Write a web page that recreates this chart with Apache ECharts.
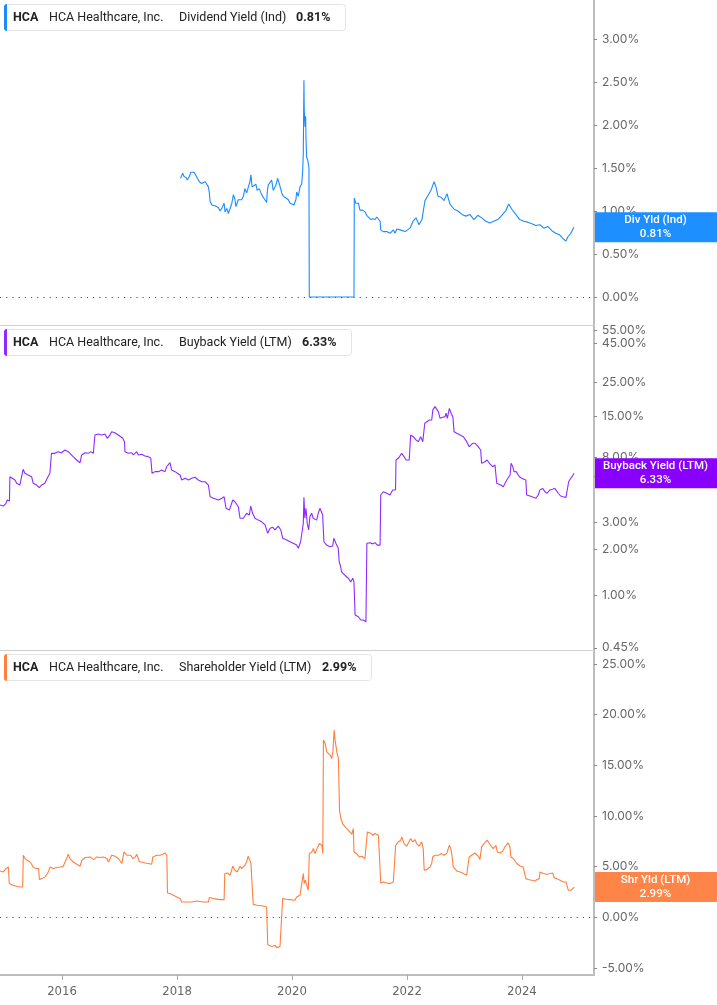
<!DOCTYPE html>
<html><head><meta charset="utf-8">
<script src="https://cdn.jsdelivr.net/npm/echarts@6/dist/echarts.min.js"></script>
<style>html,body{margin:0;padding:0;background:#fff}#c{width:717px;height:1005px}</style>
</head><body><div id="c"></div>
<script>
// ---------- DATA ----------
const divDates = ['2018-01-23','2018-02-06','2018-02-14','2018-02-27','2018-03-07','2018-03-20','2018-03-29','2018-04-10','2018-04-19','2018-05-01','2018-05-10','2018-05-22','2018-06-07','2018-06-17','2018-06-28','2018-07-09','2018-07-19','2018-07-25','2018-07-30','2018-08-10','2018-08-30','2018-09-20','2018-10-01','2018-10-12','2018-10-22','2018-10-27','2018-11-02','2018-11-13','2018-11-23','2018-12-04','2018-12-15','2018-12-25','2019-01-04','2019-01-10','2019-01-18','2019-01-25','2019-02-05','2019-02-15','2019-02-26','2019-03-08','2019-03-19','2019-03-29','2019-04-09','2019-04-15','2019-04-23','2019-05-05','2019-05-17','2019-05-25','2019-06-07','2019-06-18','2019-06-29','2019-07-13','2019-07-24','2019-07-28','2019-08-03','2019-08-14','2019-08-25','2019-09-04','2019-09-09','2019-09-21','2019-10-02','2019-10-12','2019-10-21','2019-10-28','2019-11-07','2019-11-24','2019-12-09','2019-12-20','2019-12-30','2020-01-13','2020-01-26','2020-01-31','2020-02-10','2020-02-21','2020-03-03','2020-03-09','2020-03-13','2020-03-17','2020-03-19','2020-03-24','2020-03-28','2020-03-30','2020-04-03','2020-04-10','2020-04-14','2020-04-18','2020-04-20','2021-01-29','2021-01-31','2021-02-09','2021-02-26','2021-03-08','2021-03-25','2021-04-09','2021-04-20','2021-04-30','2021-05-16','2021-05-29','2021-06-12','2021-06-23','2021-07-03','2021-07-14','2021-07-18','2021-08-03','2021-08-25','2021-09-15','2021-10-06','2021-10-17','2021-10-28','2021-11-18','2021-12-20','2022-01-20','2022-02-08','2022-02-27','2022-03-18','2022-04-06','2022-04-25','2022-05-14','2022-06-02','2022-06-22','2022-07-04','2022-07-17','2022-08-05','2022-08-24','2022-09-12','2022-10-01','2022-10-27','2022-11-21','2022-12-16','2023-01-10','2023-02-04','2023-03-02','2023-03-27','2023-04-21','2023-05-17','2023-06-11','2023-07-06','2023-08-01','2023-08-26','2023-09-20','2023-10-09','2023-10-29','2023-11-23','2023-12-18','2024-01-13','2024-02-07','2024-03-04','2024-03-29','2024-04-24','2024-05-19','2024-06-13','2024-07-09','2024-08-03','2024-08-29','2024-09-17','2024-10-07','2024-10-19','2024-11-07','2024-11-26'];
const divValues = [1.38,1.44,1.40,1.39,1.36,1.40,1.45,1.44,1.45,1.44,1.38,1.34,1.32,1.30,1.34,1.31,1.28,1.21,1.11,1.07,1.06,1.04,1.00,1.03,1.05,1.09,0.99,1.03,0.97,0.95,1.09,1.19,1.13,1.05,1.05,1.13,1.15,1.13,1.17,1.26,1.21,1.22,1.34,1.42,1.28,1.28,1.31,1.24,1.26,1.21,1.17,1.13,1.10,1.22,1.30,1.32,1.36,1.24,1.22,1.30,1.38,1.32,1.26,1.21,1.17,1.15,1.13,1.09,1.07,1.07,1.13,1.22,1.17,1.28,1.32,1.46,1.67,2.52,2.17,1.98,2.10,1.86,1.63,1.59,1.55,1.50,0.00,0.00,1.15,1.09,1.09,1.01,1.01,0.99,0.95,0.93,0.90,0.91,0.90,0.93,0.91,0.88,0.78,0.76,0.76,0.74,0.78,0.74,0.79,0.78,0.76,0.80,0.88,0.92,0.84,0.90,1.12,1.18,1.24,1.34,1.28,1.17,1.16,1.12,1.20,1.08,1.02,1.00,0.96,0.94,0.96,0.90,0.95,0.92,0.88,0.86,0.88,0.90,0.95,1.00,1.08,1.02,0.96,0.90,0.88,0.87,0.85,0.83,0.84,0.80,0.82,0.77,0.74,0.72,0.68,0.65,0.70,0.74,0.81];

const bbDates = ['2014-12-03','2014-12-24','2015-01-10','2015-01-18','2015-01-25','2015-02-01','2015-02-04','2015-02-15','2015-03-08','2015-03-19','2015-04-08','2015-04-19','2015-04-29','2015-05-10','2015-05-31','2015-06-22','2015-07-02','2015-07-23','2015-08-09','2015-08-24','2015-09-14','2015-09-29','2015-10-16','2015-10-23','2015-10-26','2015-11-16','2015-12-07','2015-12-28','2016-01-20','2016-02-09','2016-02-20','2016-03-12','2016-04-03','2016-04-24','2016-05-05','2016-05-26','2016-06-16','2016-07-01','2016-07-18','2016-07-22','2016-07-28','2016-08-18','2016-09-09','2016-09-30','2016-10-14','2016-11-01','2016-11-11','2016-12-02','2016-12-23','2017-01-21','2017-02-01','2017-02-04','2017-02-25','2017-03-19','2017-03-29','2017-04-20','2017-04-30','2017-05-21','2017-06-11','2017-07-02','2017-07-18','2017-07-23','2017-07-26','2017-08-14','2017-09-04','2017-09-25','2017-10-16','2017-10-27','2017-11-17','2017-11-28','2017-12-19','2017-12-30','2018-01-20','2018-01-31','2018-02-21','2018-03-14','2018-04-04','2018-04-25','2018-05-16','2018-06-07','2018-06-28','2018-07-19','2018-07-26','2018-07-30','2018-08-20','2018-09-21','2018-10-12','2018-10-27','2018-11-08','2018-11-29','2018-12-21','2019-01-04','2019-01-25','2019-02-05','2019-02-26','2019-03-19','2019-04-05','2019-04-14','2019-04-26','2019-05-11','2019-06-01','2019-06-23','2019-07-14','2019-07-31','2019-08-15','2019-09-01','2019-09-15','2019-10-06','2019-10-22','2019-11-03','2019-11-29','2019-12-20','2020-01-09','2020-01-31','2020-02-10','2020-02-25','2020-03-04','2020-03-13','2020-03-17','2020-03-23','2020-03-30','2020-04-07','2020-04-16','2020-04-24','2020-05-05','2020-05-15','2020-05-26','2020-06-06','2020-06-16','2020-06-27','2020-07-08','2020-07-14','2020-07-22','2020-08-08','2020-08-29','2020-09-15','2020-09-23','2020-10-06','2020-10-21','2020-10-27','2020-11-05','2020-11-11','2020-12-02','2020-12-24','2021-01-08','2021-01-21','2021-01-29','2021-02-05','2021-02-26','2021-03-13','2021-03-29','2021-04-15','2021-04-19','2021-04-21','2021-05-11','2021-05-28','2021-06-12','2021-06-26','2021-07-14','2021-07-18','2021-08-03','2021-08-25','2021-09-15','2021-10-02','2021-10-20','2021-10-23','2021-11-07','2021-11-28','2021-12-13','2021-12-26','2022-01-15','2022-01-22','2022-01-24','2022-02-10','2022-02-27','2022-03-14','2022-03-29','2022-04-11','2022-04-19','2022-04-24','2022-05-06','2022-05-23','2022-06-07','2022-06-14','2022-06-28','2022-07-09','2022-07-19','2022-07-30','2022-08-16','2022-08-31','2022-09-06','2022-09-14','2022-09-27','2022-10-08','2022-10-19','2022-10-27','2022-11-13','2022-12-04','2022-12-25','2023-01-15','2023-01-31','2023-02-22','2023-03-10','2023-03-29','2023-04-14','2023-04-18','2023-04-20','2023-05-11','2023-05-25','2023-06-12','2023-06-29','2023-07-14','2023-07-22','2023-07-25','2023-08-04','2023-08-19','2023-09-05','2023-09-16','2023-09-27','2023-10-09','2023-10-18','2023-10-24','2023-11-04','2023-11-12','2023-11-25','2023-12-16','2023-12-31','2024-01-13','2024-01-26','2024-01-29','2024-01-31','2024-02-21','2024-03-13','2024-03-30','2024-04-14','2024-04-24','2024-05-12','2024-05-26','2024-06-09','2024-06-27','2024-07-14','2024-07-28','2024-08-08','2024-08-19','2024-09-03','2024-09-19','2024-10-07','2024-10-17','2024-10-24','2024-11-06','2024-11-18','2024-11-27'];
const bbValues = [3.91,3.85,4.01,4.22,4.11,4.15,6.00,5.86,5.71,5.43,5.29,5.43,6.71,6.32,6.16,6.00,5.43,5.29,5.08,5.29,5.43,5.86,6.32,6.45,8.55,8.55,8.77,8.63,8.99,8.77,8.55,8.13,7.73,7.41,8.34,8.63,8.55,8.77,8.55,8.60,11.29,11.46,11.29,11.46,10.74,11.29,11.87,11.69,11.29,10.74,10.16,8.77,8.55,8.63,8.34,8.77,8.34,8.43,8.21,8.13,7.93,7.85,6.32,6.48,6.48,6.64,6.48,6.98,7.42,6.64,6.48,6.32,6.16,5.71,5.86,5.71,5.86,5.95,5.71,5.56,5.56,5.29,5.20,4.43,4.33,4.22,4.33,4.43,3.72,3.62,4.22,4.11,3.81,3.20,3.20,3.45,3.36,3.85,3.45,3.20,3.11,3.03,2.89,2.55,2.75,2.79,2.68,2.84,2.68,2.36,2.30,2.24,2.19,2.13,2.03,2.24,2.30,2.96,4.39,3.20,3.72,2.96,2.68,3.27,3.45,3.20,3.27,3.11,3.45,3.72,3.62,3.36,2.24,2.13,2.08,2.10,2.36,2.19,2.03,1.66,1.54,1.42,1.35,1.29,1.22,1.29,1.22,0.739,0.72,0.685,0.685,0.667,0.685,2.19,2.21,2.17,2.21,2.13,2.13,4.55,4.78,4.67,4.55,4.91,4.91,7.73,7.93,8.55,8.13,7.73,7.73,7.73,11.29,11.0,10.47,10.2,11.0,10.2,9.95,13.48,13.48,14.16,14.16,16.5,17.33,17.5,16.07,14.54,14.76,14.9,15.7,14.54,16.9,15.7,14.9,11.87,11.59,11.29,11.0,10.2,9.46,9.95,9.95,9.46,8.99,8.86,7.35,7.53,7.73,7.28,6.98,7.16,7.0,5.43,5.29,5.29,5.16,5.43,5.71,5.86,6.16,7.35,6.98,6.48,6.48,6.00,5.86,5.77,5.71,5.60,4.55,4.48,4.39,4.33,4.55,4.91,5.03,4.78,4.67,4.91,4.96,5.03,4.91,4.67,4.48,4.43,4.39,4.33,5.56,5.86,6.07,6.33];

const shyDates = ['2014-12-03','2014-12-24','2015-01-10','2015-01-25','2015-01-31','2015-02-25','2015-03-19','2015-04-09','2015-04-26','2015-04-30','2015-05-11','2015-05-25','2015-06-12','2015-06-22','2015-07-03','2015-07-24','2015-08-06','2015-08-10','2015-08-25','2015-09-15','2015-09-26','2015-10-06','2015-10-17','2015-11-07','2015-11-28','2015-12-19','2016-01-09','2016-01-20','2016-01-30','2016-02-10','2016-02-20','2016-03-13','2016-04-04','2016-04-25','2016-05-06','2016-05-27','2016-06-07','2016-06-28','2016-07-19','2016-08-09','2016-08-30','2016-09-20','2016-10-12','2016-10-22','2016-11-02','2016-11-12','2016-12-03','2016-12-24','2017-01-15','2017-01-29','2017-02-15','2017-02-26','2017-03-13','2017-03-25','2017-04-09','2017-04-20','2017-05-07','2017-05-22','2017-06-12','2017-07-03','2017-07-24','2017-07-31','2017-08-25','2017-09-15','2017-10-02','2017-10-17','2017-10-28','2017-11-01','2017-11-18','2017-12-09','2017-12-30','2018-01-20','2018-01-31','2018-03-03','2018-04-04','2018-05-06','2018-06-17','2018-07-19','2018-07-25','2018-08-20','2018-10-01','2018-10-27','2018-10-31','2018-11-17','2018-12-04','2018-12-21','2019-01-04','2019-01-18','2019-02-05','2019-02-15','2019-03-08','2019-03-19','2019-03-29','2019-04-15','2019-04-26','2019-04-30','2019-05-22','2019-07-03','2019-07-24','2019-07-31','2019-08-25','2019-09-15','2019-09-26','2019-10-17','2019-10-28','2019-11-03','2019-11-27','2019-12-18','2020-01-20','2020-01-31','2020-02-21','2020-03-03','2020-03-13','2020-03-19','2020-03-26','2020-04-04','2020-04-14','2020-04-20','2020-05-06','2020-05-16','2020-05-27','2020-06-07','2020-06-13','2020-06-23','2020-07-09','2020-07-15','2020-07-19','2020-07-30','2020-08-09','2020-08-20','2020-08-30','2020-09-10','2020-09-17','2020-09-25','2020-10-01','2020-10-12','2020-10-22','2020-10-29','2020-11-07','2020-11-19','2020-12-04','2020-12-15','2021-01-04','2021-01-15','2021-01-25','2021-01-29','2021-02-15','2021-03-04','2021-03-19','2021-04-09','2021-04-20','2021-04-24','2021-05-11','2021-05-28','2021-06-12','2021-06-22','2021-07-03','2021-07-13','2021-07-18','2021-08-03','2021-08-25','2021-09-15','2021-10-06','2021-10-17','2021-10-21','2021-11-07','2021-11-22','2021-11-29','2021-12-13','2021-12-30','2022-01-09','2022-01-24','2022-02-06','2022-02-20','2022-03-03','2022-03-19','2022-04-04','2022-04-14','2022-04-20','2022-05-06','2022-05-27','2022-06-07','2022-06-13','2022-06-28','2022-07-19','2022-08-09','2022-08-24','2022-09-10','2022-09-27','2022-10-06','2022-10-12','2022-10-22','2022-11-02','2022-11-13','2022-12-04','2022-12-25','2023-01-15','2023-01-25','2023-01-31','2023-02-15','2023-03-08','2023-03-29','2023-04-09','2023-04-20','2023-05-05','2023-05-26','2023-06-07','2023-06-16','2023-07-03','2023-07-20','2023-07-29','2023-08-15','2023-09-01','2023-09-15','2023-09-26','2023-10-06','2023-10-17','2023-10-23','2023-11-07','2023-11-29','2023-12-20','2024-01-09','2024-01-20','2024-01-26','2024-02-10','2024-03-03','2024-03-24','2024-04-07','2024-04-20','2024-04-25','2024-05-16','2024-06-07','2024-06-28','2024-07-15','2024-07-23','2024-08-09','2024-08-30','2024-09-20','2024-10-07','2024-10-15','2024-10-22','2024-11-07','2024-11-19','2024-11-29'];
const shyValues = [4.58,4.48,4.81,4.97,3.33,3.16,3.06,2.99,2.99,6.13,5.80,5.63,5.46,5.24,4.91,4.81,4.81,3.73,3.82,3.98,4.15,4.48,4.97,4.81,4.91,4.97,5.04,5.14,5.80,6.23,5.80,5.46,5.24,5.04,5.63,5.90,5.80,5.96,5.70,5.96,5.90,5.96,5.80,5.46,5.63,6.13,6.03,5.80,5.31,6.45,6.13,5.96,6.13,5.80,5.90,6.23,5.46,5.46,5.37,5.31,5.24,5.96,6.13,6.13,6.23,6.35,6.13,2.40,2.34,2.17,2.01,1.85,1.51,1.51,1.51,1.61,1.51,1.51,1.95,1.85,1.75,1.75,4.32,4.38,4.15,5.04,4.64,4.48,5.04,4.81,5.14,5.46,6.03,5.37,5.37,1.28,1.19,1.12,1.02,-2.70,-2.87,-2.77,-2.99,-2.87,-2.77,1.85,1.78,1.75,1.68,2.01,2.17,2.34,4.32,3.33,3.66,3.16,2.67,6.29,6.45,6.79,6.29,6.13,6.95,7.28,7.11,6.29,17.49,17.16,16.33,16.23,16.01,15.68,16.33,18.48,17.49,16.33,15.68,10.57,9.75,9.19,8.92,8.76,8.43,8.20,8.76,6.45,6.29,5.96,6.03,5.80,5.70,8.43,8.33,8.10,8.27,8.33,8.10,7.93,3.39,3.49,3.39,3.33,3.49,3.33,7.11,7.44,7.61,7.93,7.28,7.02,7.11,7.78,7.44,7.68,7.28,7.02,7.44,6.79,4.64,4.71,4.97,5.31,5.96,6.13,6.13,6.29,6.13,6.29,7.11,6.79,6.29,4.97,4.81,4.58,4.48,4.32,4.15,4.15,5.96,6.13,6.35,6.03,5.70,6.95,7.28,7.61,7.44,7.11,6.79,7.11,6.45,6.35,6.52,6.95,7.11,7.34,6.95,5.96,5.80,5.31,5.07,4.97,4.81,3.82,3.73,3.66,3.59,3.73,3.82,4.48,4.32,4.25,4.32,4.38,3.92,3.82,3.66,3.49,3.49,3.59,2.67,2.67,2.84,2.99];

const divTicks = [0, 0.5, 1, 1.5, 2, 2.5, 3];
const bbTicks = [0.45, 1, 2, 3, 6, 8, 15, 25, 45, 55];
const shyTicks = [-5, 0, 5, 10, 15, 20, 25];
const yearTicks = [2016, 2018, 2020, 2022, 2024];
const xRange = ['2014-12-03', '2025-04-03'];

// ---------- CHART ----------
const C = { div: '#1a8cff', divBox: '#1e8fff', bb: '#8f2bff', bbBox: '#8a00ff', shy: '#ff7f3f', shyBox: '#ff8447' };
const FONT = 'Inter, "Noto Sans", sans-serif';
const LFONT = 'Roboto, "Noto Sans", sans-serif';
const ts = s => { const p = s.split('-').map(Number); return new Date(p[0], p[1] - 1, p[2]).getTime(); };
const xMin = ts(xRange[0]);
const xMax = ts(xRange[1]);
const yearTs = yearTicks.map(y => new Date(y, 0, 1).getTime());

const zip = (d, v) => d.map((x, i) => [ts(x), v[i]]);
const chart = echarts.init(document.getElementById('c'), null, { renderer: 'canvas' });

function xAx(i, bottom) {
  return {
    gridIndex: i, type: 'value', min: xMin, max: xMax, scale: true,
    axisLine: { show: true, onZero: false, lineStyle: { color: bottom ? '#bdbdbd' : '#cfcfcf', width: bottom ? 2 : 1 } },
    axisTick: bottom ? { show: true, length: 5, customValues: yearTs, lineStyle: { color: '#aaa' } } : { show: false },
    axisLabel: bottom ? { show: true, customValues: yearTs, formatter: v => String(new Date(v).getFullYear()), color: '#666', fontSize: 13, fontFamily: '"Liberation Sans Narrow", "DejaVu Sans Condensed", sans-serif', margin: 10 } : { show: false },
    splitLine: { show: false }
  };
}
function yAx(i, type, min, max, ticks) {
  const o = {
    gridIndex: i, type: type, position: 'right', min: min, max: max,
    axisLine: { show: true, onZero: false, lineStyle: { color: '#bdbdbd', width: 2 } },
    axisTick: { show: true, length: 3, customValues: ticks, lineStyle: { color: '#888' } },
    axisLabel: { show: true, customValues: ticks, formatter: v => Number(v).toFixed(2) + '%', color: '#666', fontSize: 12, fontFamily: FONT, margin: 8 },
    splitLine: { show: false }
  };
  if (type === 'log') o.logBase = 10;
  return o;
}
const zeroLine = { silent: true, symbol: 'none', label: { show: false }, lineStyle: { type: [1.2, 5], color: '#555', width: 1 }, data: [{ yAxis: 0 }], animation: false };
function ser(i, name, data, color, zero) {
  const s = { type: 'line', name: name, xAxisIndex: i, yAxisIndex: i, data: data, showSymbol: false, symbol: 'none', lineStyle: { color: color, width: 1.1 }, itemStyle: { color: color }, animation: false };
  if (zero) s.markLine = zeroLine;
  return s;
}

chart.setOption({
  animation: false,
  grid: [
    { left: 0, right: 123, top: 0, height: 325 },
    { left: 0, right: 123, top: 325, height: 325 },
    { left: 0, right: 123, top: 650, height: 325 }
  ],
  xAxis: [xAx(0, false), xAx(1, false), xAx(2, true)],
  yAxis: [
    yAx(0, 'value', -0.326, 3.453, divTicks),
    yAx(1, 'log', 0.435, 59.7, bbTicks),
    yAx(2, 'value', -5.69, 26.38, shyTicks)
  ],
  series: [
    ser(0, 'Dividend Yield (Ind)', zip(divDates, divValues), C.div, true),
    ser(1, 'Buyback Yield (LTM)', zip(bbDates, bbValues), C.bb, false),
    ser(2, 'Shareholder Yield (LTM)', zip(shyDates, shyValues), C.shy, true)
  ]
});

// legends and end labels
const panels = [
  { top: 0, metric: 'Dividend Yield (Ind)', short: 'Div Yld (Ind)', dates: divDates, vals: divValues, color: C.div, box: C.divBox, w: 341, vx: 296 },
  { top: 325, metric: 'Buyback Yield (LTM)', short: 'Buyback Yield (LTM)', dates: bbDates, vals: bbValues, color: C.bb, box: C.bbBox, w: 347, vx: 302 },
  { top: 650, metric: 'Shareholder Yield (LTM)', short: 'Shr Yld (LTM)', dates: shyDates, vals: shyValues, color: C.shy, box: C.shyBox, w: 367, vx: 322 }
];
const g = [];
panels.forEach((p, i) => {
  const last = p.vals[p.vals.length - 1];
  const lastTxt = last.toFixed(2) + '%';
  const t = p.top;
  g.push({ type: 'rect', shape: { x: 4.5, y: t + 4.5, width: p.w, height: 26, r: 3 }, style: { fill: '#fff', stroke: '#e4e4e4', lineWidth: 1 }, z: 10 });
  g.push({ type: 'rect', shape: { x: 4, y: t + 4, width: 3, height: 27, r: [3, 0, 0, 3] }, style: { fill: p.color }, z: 11 });
  const ty = t + 17.5;
  const txt = (x, s, bold) => ({ type: 'text', x: x, y: ty, style: { text: s, fill: '#222', font: (bold ? 'bold ' : '') + '12.5px ' + LFONT, verticalAlign: 'middle', align: 'left' }, z: 12 });
  g.push(txt(13, 'HCA', true));
  g.push(txt(49, 'HCA Healthcare, Inc.', false));
  g.push(txt(179, p.metric, false));
  g.push(txt(p.vx, lastTxt, true));
  const pt = chart.convertToPixel({ gridIndex: i }, [ts(p.dates[p.dates.length - 1]), last]);
  const py = pt[1];
  g.push({ type: 'rect', shape: { x: 595, y: py - 15, width: 122, height: 30 }, style: { fill: p.box }, z: 20 });
  g.push({ type: 'text', x: 655.5, y: py, style: { text: p.short + '\n' + lastTxt, fill: '#fff', font: '500 11.5px ' + LFONT, align: 'center', verticalAlign: 'middle', lineHeight: 14 }, z: 21 });
});
chart.setOption({ graphic: g });
</script>
</body></html>
